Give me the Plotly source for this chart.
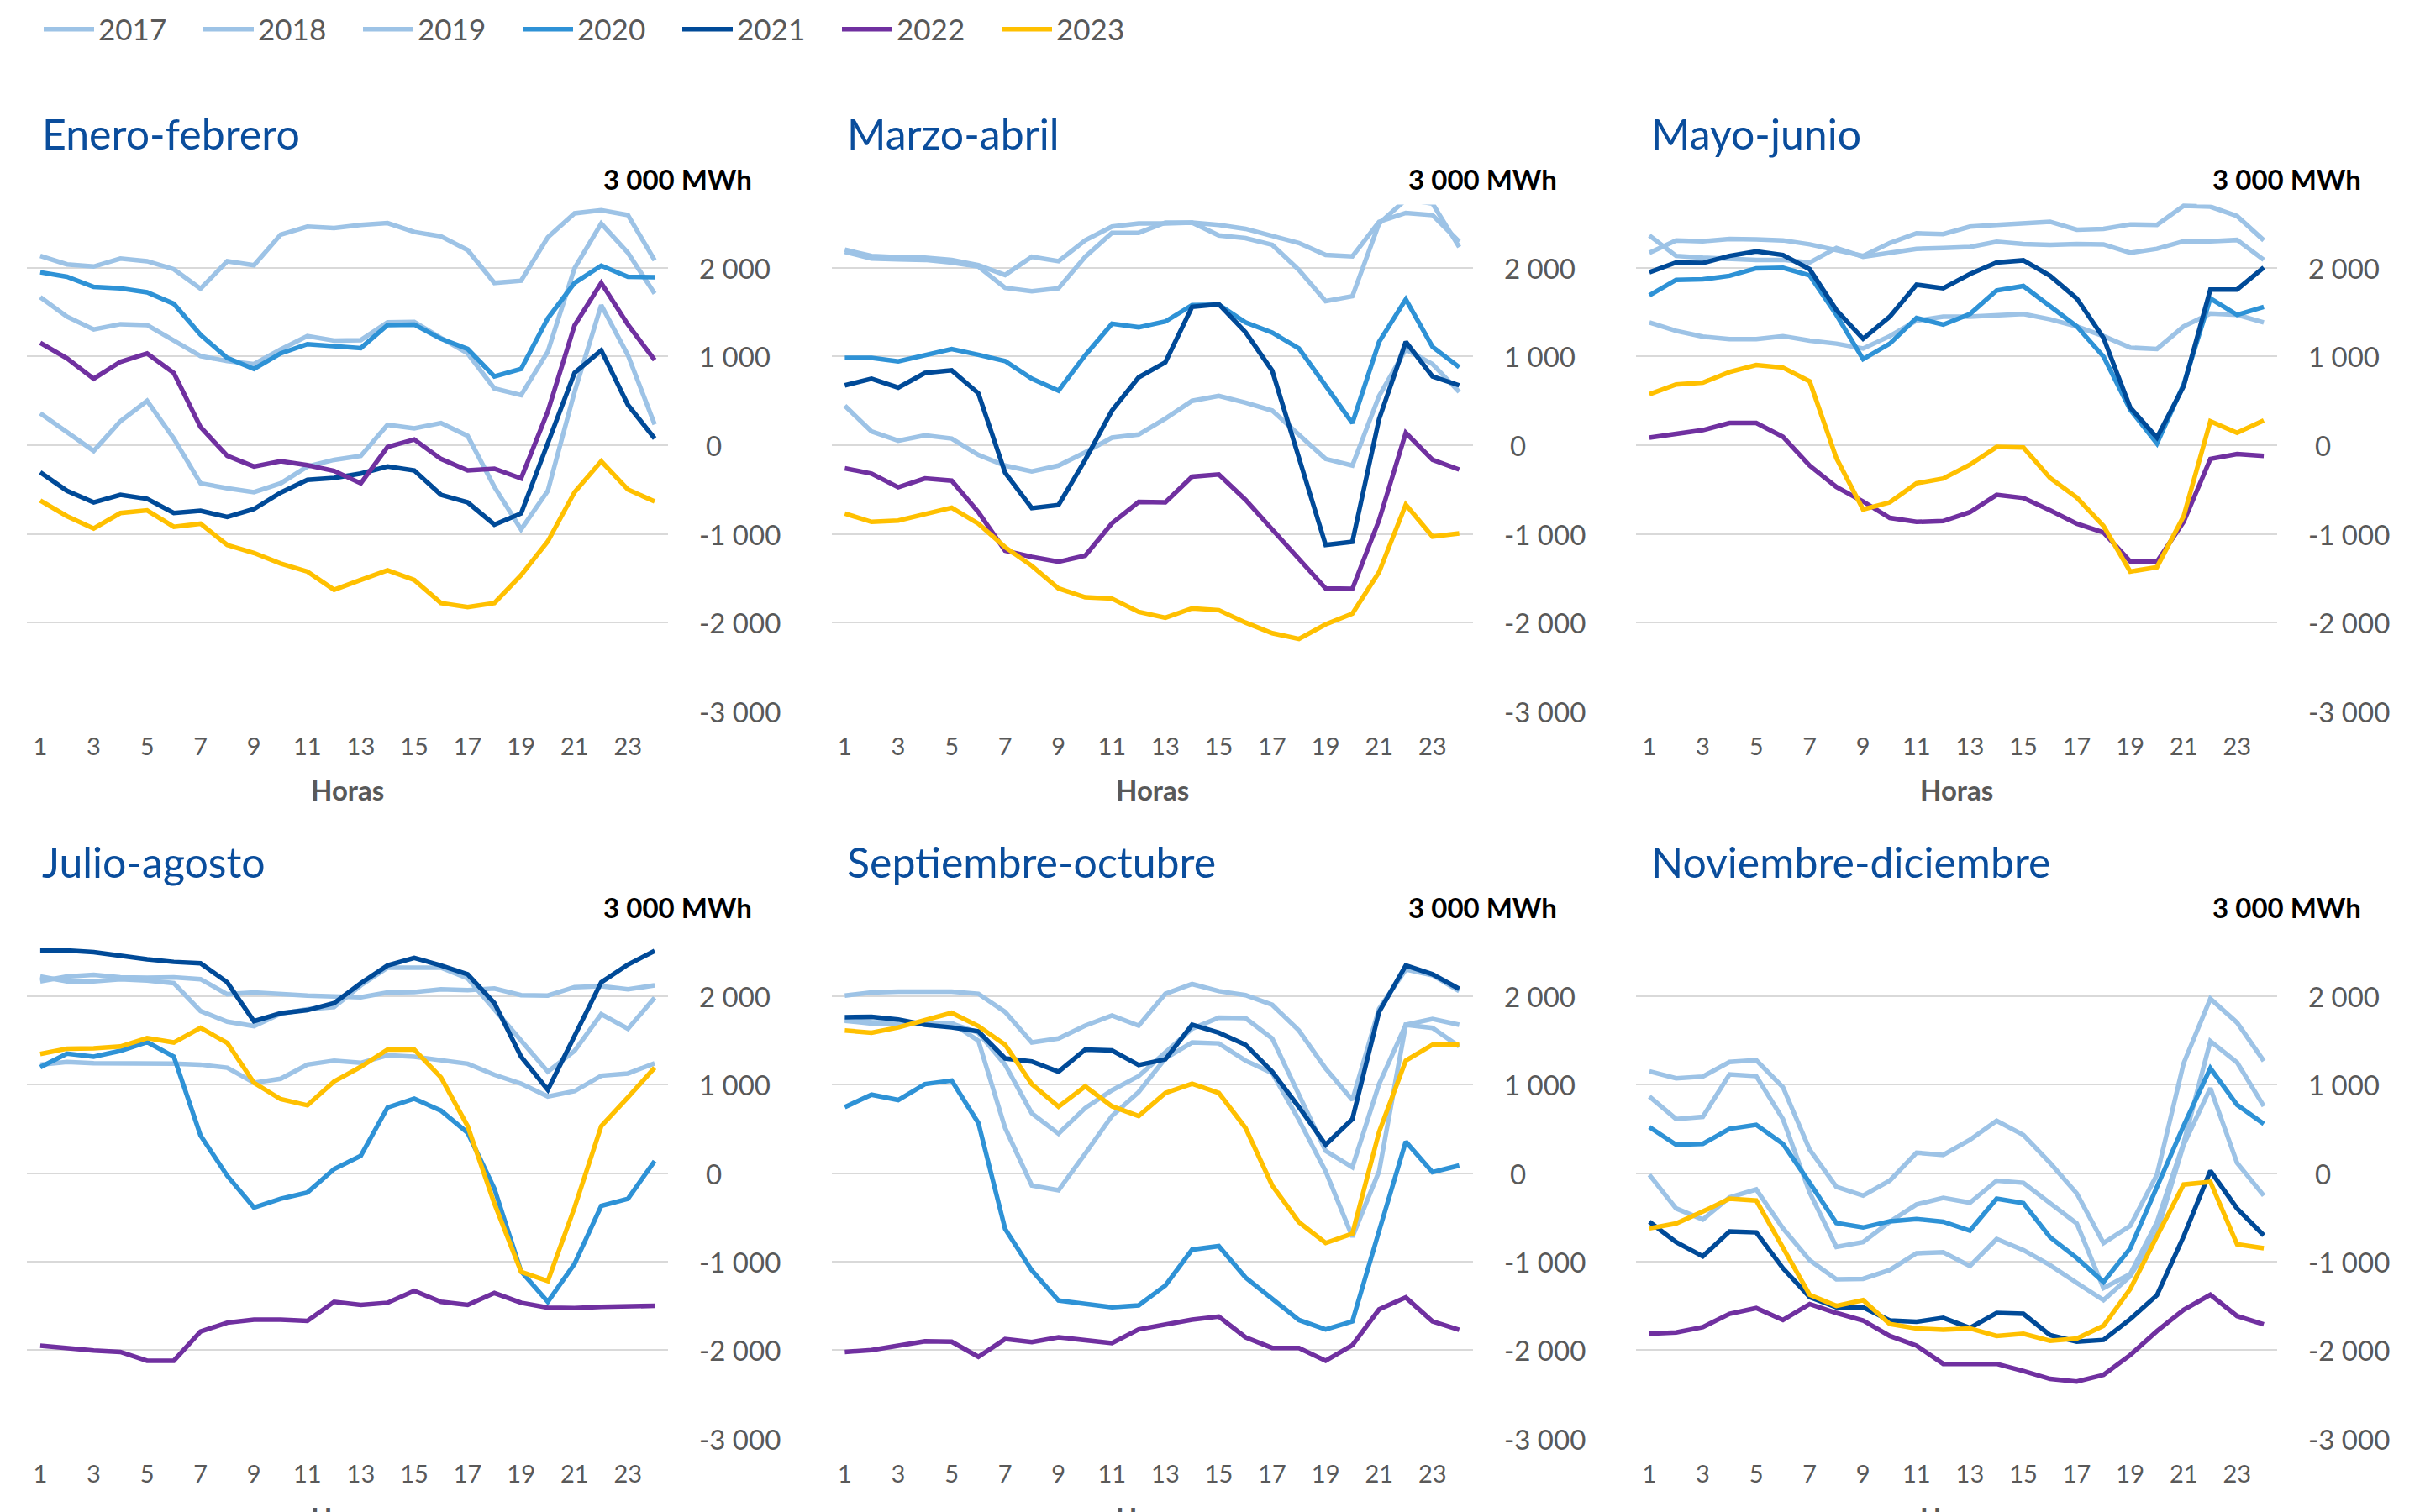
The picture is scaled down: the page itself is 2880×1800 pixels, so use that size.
import plotly.graph_objects as go

hours = list(range(1, 25))
years = ["2017", "2018", "2019", "2020", "2021", "2022", "2023"]
colors = ["#9dc3e6", "#9dc3e6", "#9dc3e6", "#2e92d6", "#004a98", "#7030a0", "#ffc000"]
periods = ["Enero-febrero", "Marzo-abril", "Mayo-junio",
           "Julio-agosto", "Septiembre-octubre", "Noviembre-diciembre"]
y_tick_vals = [-3000, -2000, -1000, 0, 1000, 2000, 3000]
y_tick_text = ["-3 000", "-2 000", "-1 000", "0", "1 000", "2 000"]
top_label = "3 000 MWh"
x_tick_vals = [1, 3, 5, 7, 9, 11, 13, 15, 17, 19, 21, 23]
x_title = "Horas"

# ---- Enero-febrero ----
ef_2017 = [2135, 2040, 2015, 2105, 2075, 1985, 1765, 2075, 2030, 2375, 2465, 2450, 2485, 2505, 2405, 2355, 2200, 1830, 1855, 2345, 2615, 2650, 2595, 2085]
ef_2018 = [1670, 1450, 1305, 1365, 1355, 1175, 1005, 950, 915, 1080, 1230, 1180, 1185, 1385, 1390, 1210, 1035, 640, 565, 1055, 1995, 2500, 2170, 1710]
ef_2019 = [360, 150, -65, 270, 500, 75, -430, -485, -530, -430, -240, -165, -120, 230, 190, 250, 105, -470, -950, -515, 600, 1580, 1015, 235]
ef_2020 = [1950, 1900, 1785, 1770, 1725, 1595, 1245, 985, 860, 1035, 1140, 1120, 1095, 1355, 1360, 1200, 1085, 775, 860, 1430, 1830, 2025, 1900, 1895]
ef_2021 = [-305, -515, -645, -560, -605, -765, -740, -810, -720, -535, -390, -370, -320, -240, -285, -560, -645, -895, -770, 30, 815, 1070, 455, 75]
ef_2022 = [1155, 980, 750, 940, 1035, 815, 205, -120, -240, -180, -225, -290, -430, -20, 65, -155, -285, -265, -375, 380, 1350, 1830, 1360, 960]
ef_2023 = [-625, -800, -940, -765, -735, -920, -885, -1125, -1215, -1335, -1425, -1630, -1520, -1410, -1520, -1780, -1825, -1780, -1465, -1085, -530, -180, -500, -635]

# ---- Marzo-abril ----
ma_2017 = [2205, 2135, 2120, 2115, 2090, 2030, 1920, 2125, 2075, 2310, 2465, 2500, 2500, 2510, 2485, 2440, 2360, 2280, 2145, 2130, 2520, 2620, 2595, 2295]
ma_2018 = [2180, 2105, 2095, 2090, 2060, 2015, 1775, 1735, 1770, 2125, 2395, 2395, 2510, 2510, 2365, 2335, 2260, 1975, 1625, 1680, 2500, 2770, 2725, 2235]
ma_2019 = [445, 155, 50, 110, 75, -110, -230, -295, -230, -80, 85, 120, 300, 500, 555, 480, 390, 125, -155, -230, 555, 1080, 915, 600]
ma_2020 = [985, 985, 945, 1015, 1085, 1020, 950, 750, 615, 1015, 1370, 1330, 1395, 1580, 1585, 1385, 1270, 1090, 675, 250, 1165, 1645, 1110, 880]
ma_2021 = [675, 750, 650, 815, 845, 585, -310, -710, -675, -165, 390, 765, 935, 1560, 1590, 1275, 840, -145, -1125, -1090, 295, 1165, 775, 675]
ma_2022 = [-260, -320, -475, -375, -400, -755, -1190, -1260, -1315, -1245, -880, -640, -645, -355, -330, -615, -950, -1290, -1615, -1620, -845, 140, -165, -275]
ma_2023 = [-770, -865, -850, -775, -705, -885, -1150, -1360, -1615, -1715, -1730, -1880, -1945, -1840, -1860, -2000, -2120, -2185, -2020, -1900, -1430, -670, -1030, -995]

# ---- Mayo-junio ----
mj_2017 = [2170, 2310, 2300, 2325, 2320, 2310, 2265, 2205, 2135, 2280, 2390, 2380, 2465, 2485, 2500, 2520, 2430, 2440, 2490, 2485, 2700, 2690, 2585, 2310]
mj_2018 = [2365, 2135, 2115, 2100, 2090, 2090, 2060, 2225, 2125, 2170, 2215, 2225, 2235, 2295, 2270, 2260, 2270, 2265, 2170, 2215, 2300, 2300, 2315, 2090]
mj_2019 = [1385, 1290, 1225, 1195, 1195, 1230, 1180, 1145, 1090, 1230, 1405, 1450, 1450, 1465, 1480, 1420, 1340, 1230, 1100, 1085, 1340, 1485, 1470, 1385]
mj_2020 = [1690, 1865, 1870, 1910, 1995, 2000, 1915, 1470, 970, 1145, 1435, 1360, 1480, 1745, 1795, 1570, 1340, 1000, 400, 20, 685, 1655, 1470, 1560]
mj_2021 = [1950, 2060, 2055, 2135, 2185, 2145, 1985, 1525, 1200, 1450, 1810, 1770, 1930, 2060, 2085, 1910, 1655, 1210, 425, 85, 665, 1755, 1755, 2005]
mj_2022 = [85, 125, 170, 250, 250, 95, -230, -470, -635, -820, -865, -855, -755, -560, -595, -735, -885, -985, -1310, -1315, -865, -155, -100, -120]
mj_2023 = [575, 685, 705, 825, 905, 875, 720, -145, -725, -645, -430, -375, -220, -20, -25, -370, -590, -910, -1425, -1375, -800, 270, 140, 280]

# ---- Julio-agosto ----
ja_2017 = [2165, 2220, 2240, 2210, 2205, 2210, 2190, 2020, 2040, 2020, 2005, 1995, 1985, 2040, 2045, 2075, 2065, 2085, 2010, 2005, 2100, 2110, 2075, 2120]
ja_2018 = [2220, 2165, 2165, 2190, 2175, 2145, 1830, 1710, 1660, 1800, 1850, 1875, 2120, 2320, 2320, 2320, 2200, 1850, 1495, 1145, 1380, 1795, 1630, 1980]
ja_2019 = [1225, 1255, 1240, 1240, 1235, 1235, 1225, 1190, 1020, 1065, 1225, 1270, 1245, 1330, 1315, 1280, 1235, 1110, 1010, 865, 925, 1100, 1125, 1240]
ja_2020 = [1195, 1350, 1315, 1380, 1480, 1315, 425, -30, -390, -290, -220, 45, 195, 740, 840, 705, 455, -175, -1110, -1455, -1025, -370, -290, 135]
ja_2021 = [2515, 2515, 2495, 2450, 2415, 2385, 2370, 2155, 1715, 1805, 1840, 1920, 2145, 2345, 2430, 2345, 2245, 1920, 1315, 940, 1560, 2155, 2355, 2510]
ja_2022 = [-1950, -1980, -2005, -2020, -2120, -2120, -1790, -1690, -1655, -1655, -1670, -1455, -1490, -1465, -1330, -1455, -1490, -1355, -1465, -1520, -1525, -1510, -1505, -1500]
ja_2023 = [1345, 1405, 1410, 1430, 1525, 1475, 1640, 1470, 1020, 835, 765, 1035, 1200, 1395, 1395, 1080, 530, -345, -1115, -1220, -390, 530, 855, 1190]

# ---- Septiembre-octubre ----
so_2017 = [2005, 2040, 2050, 2045, 2050, 2025, 1820, 1475, 1520, 1665, 1780, 1665, 2025, 2135, 2055, 2010, 1900, 1610, 1180, 825, 1855, 2300, 2235, 2055]
so_2018 = [1720, 1690, 1690, 1685, 1690, 1585, 1225, 675, 445, 735, 935, 1095, 1360, 1630, 1755, 1750, 1520, 870, 250, 65, 1005, 1675, 1740, 1675]
so_2019 = [1730, 1705, 1695, 1695, 1695, 1495, 510, -140, -195, 220, 645, 915, 1295, 1475, 1465, 1270, 1130, 600, 20, -720, 20, 1675, 1640, 1430]
so_2020 = [745, 885, 825, 1005, 1045, 565, -630, -1100, -1440, -1475, -1515, -1495, -1270, -865, -825, -1180, -1415, -1660, -1765, -1675, -655, 355, 10, 85]
so_2021 = [1760, 1765, 1735, 1675, 1645, 1600, 1295, 1260, 1145, 1395, 1385, 1220, 1285, 1675, 1585, 1450, 1145, 745, 320, 610, 1820, 2345, 2245, 2080]
so_2022 = [-2020, -2000, -1950, -1900, -1905, -2075, -1875, -1910, -1855, -1890, -1920, -1765, -1715, -1655, -1620, -1855, -1975, -1975, -2120, -1945, -1540, -1405, -1675, -1770]
so_2023 = [1610, 1585, 1645, 1730, 1810, 1660, 1450, 1005, 750, 980, 755, 645, 905, 1010, 905, 510, -140, -555, -790, -685, 465, 1270, 1450, 1450]

# ---- Noviembre-diciembre ----
nd_2017 = [1150, 1070, 1090, 1255, 1275, 970, 265, -155, -255, -85, 230, 205, 375, 590, 430, 115, -230, -790, -595, -20, 1240, 1970, 1700, 1265]
nd_2018 = [865, 610, 635, 1115, 1095, 610, -220, -835, -780, -550, -355, -280, -335, -85, -110, -335, -570, -1300, -1140, -555, 340, 1490, 1250, 755]
nd_2019 = [-20, -400, -525, -275, -185, -625, -985, -1200, -1195, -1095, -905, -895, -1050, -745, -870, -1040, -1240, -1435, -1165, -670, 320, 960, 115, -255]
nd_2020 = [520, 320, 330, 500, 545, 330, -110, -565, -615, -545, -520, -550, -650, -290, -340, -725, -960, -1230, -850, -155, 535, 1185, 770, 555]
nd_2021 = [-550, -780, -940, -660, -670, -1075, -1400, -1515, -1515, -1665, -1680, -1635, -1750, -1580, -1590, -1830, -1905, -1885, -1650, -1380, -715, 25, -400, -705]
nd_2022 = [-1815, -1800, -1740, -1590, -1525, -1660, -1480, -1580, -1665, -1840, -1950, -2155, -2155, -2155, -2235, -2325, -2355, -2280, -2055, -1785, -1545, -1375, -1615, -1710]
nd_2023 = [-625, -570, -435, -290, -310, -850, -1375, -1500, -1435, -1705, -1755, -1770, -1755, -1840, -1815, -1895, -1870, -1725, -1310, -715, -130, -100, -805, -850]

panel_series = [
    [ef_2017, ef_2018, ef_2019, ef_2020, ef_2021, ef_2022, ef_2023],
    [ma_2017, ma_2018, ma_2019, ma_2020, ma_2021, ma_2022, ma_2023],
    [mj_2017, mj_2018, mj_2019, mj_2020, mj_2021, mj_2022, mj_2023],
    [ja_2017, ja_2018, ja_2019, ja_2020, ja_2021, ja_2022, ja_2023],
    [so_2017, so_2018, so_2019, so_2020, so_2021, so_2022, so_2023],
    [nd_2017, nd_2018, nd_2019, nd_2020, nd_2021, nd_2022, nd_2023],
]

W, H = 2880, 1800
FONT = "Lato"
GREY = "#595959"
TITLE_BLUE = "#0a4d9c"

# plot areas in pixels (left, right) and (top, bottom)
col_px = [(32, 795), (989.5, 1752.5), (1947, 2710)]
row_px = [(213, 847), (1080, 1713)]

fig = go.Figure()
layout = dict(
    width=W, height=H,
    margin=dict(l=0, r=0, t=0, b=0),
    paper_bgcolor="white", plot_bgcolor="white",
    font=dict(family=FONT, color=GREY),
    showlegend=True,
    legend=dict(orientation="h", x=47 / W, y=1 - 35 / H, xanchor="left", yanchor="middle",
                font=dict(family=FONT, size=35, color=GREY),
                itemwidth=60, entrywidth=115, entrywidthmode="pixels",
                bgcolor="rgba(0,0,0,0)", tracegroupgap=0),
)
annotations = []

for i, period in enumerate(periods):
    r, c = divmod(i, 3)
    k = i + 1
    xs = "" if k == 1 else str(k)
    x0, x1 = col_px[c]
    yt, yb = row_px[r]
    pw = x1 - x0
    layout["xaxis" + xs] = dict(
        domain=[x0 / W, x1 / W], range=[0.5, 24.5], anchor="y" + xs,
        tickmode="array", tickvals=x_tick_vals, ticks="", showgrid=False,
        zeroline=False, showline=False, fixedrange=True,
        tickfont=dict(family=FONT, size=29, color=GREY), ticklabelstandoff=22,
    )
    layout["yaxis" + xs] = dict(
        domain=[1 - yb / H, 1 - yt / H], range=[-3003, 3003], anchor="x" + xs,
        tickmode="array", tickvals=y_tick_vals, showticklabels=False, ticks="",
        showgrid=True, gridcolor="#d9d9d9", gridwidth=2, zeroline=False,
        showline=False, fixedrange=True,
    )
    for j, yr in enumerate(years):
        fig.add_trace(go.Scatter(
            x=hours, y=panel_series[i][j], mode="lines", name=yr,
            legendgroup=yr, showlegend=(i == 0),
            line=dict(color=colors[j], width=5.5),
            xaxis="x" + xs, yaxis="y" + xs, hoverinfo="skip",
        ))
    xd = "x" + xs + " domain"
    yd = "y" + xs + " domain"
    annotations.append(dict(text=period, xref=xd, yref=yd, x=16 / pw, y=1.085,
                            xanchor="left", yanchor="middle", showarrow=False,
                            font=dict(family=FONT, size=50, color=TITLE_BLUE)))
    for v, t in zip(y_tick_vals[:-1], y_tick_text):
        off = 43 if t == "0" else 35
        annotations.append(dict(text=t, xref=xd, yref="y" + xs, x=1 + off / pw, y=v,
                                xanchor="left", yanchor="middle", showarrow=False,
                                font=dict(family=FONT, size=33, color=GREY)))
    annotations.append(dict(text="<b>" + top_label + "</b>", xref=xd, yref="y" + xs,
                            x=1 + 11.5 / pw, y=3000, xanchor="center", yanchor="middle",
                            showarrow=False, bgcolor="white", borderpad=4,
                            width=205, height=52, align="center", valign="middle",
                            font=dict(family=FONT, size=33, color="black")))
    annotations.append(dict(text="<b>" + x_title + "</b>", xref=xd, yref=yd,
                            x=0.5, y=-0.147,
                            xanchor="center", yanchor="middle", showarrow=False,
                            font=dict(family=FONT, size=33, color=GREY)))

layout["annotations"] = annotations
fig.update_layout(**layout)
fig.write_html("out.html",
               config={"displayModeBar": False},
               post_script="document.body.style.margin='0';document.body.style.overflow='hidden';")
